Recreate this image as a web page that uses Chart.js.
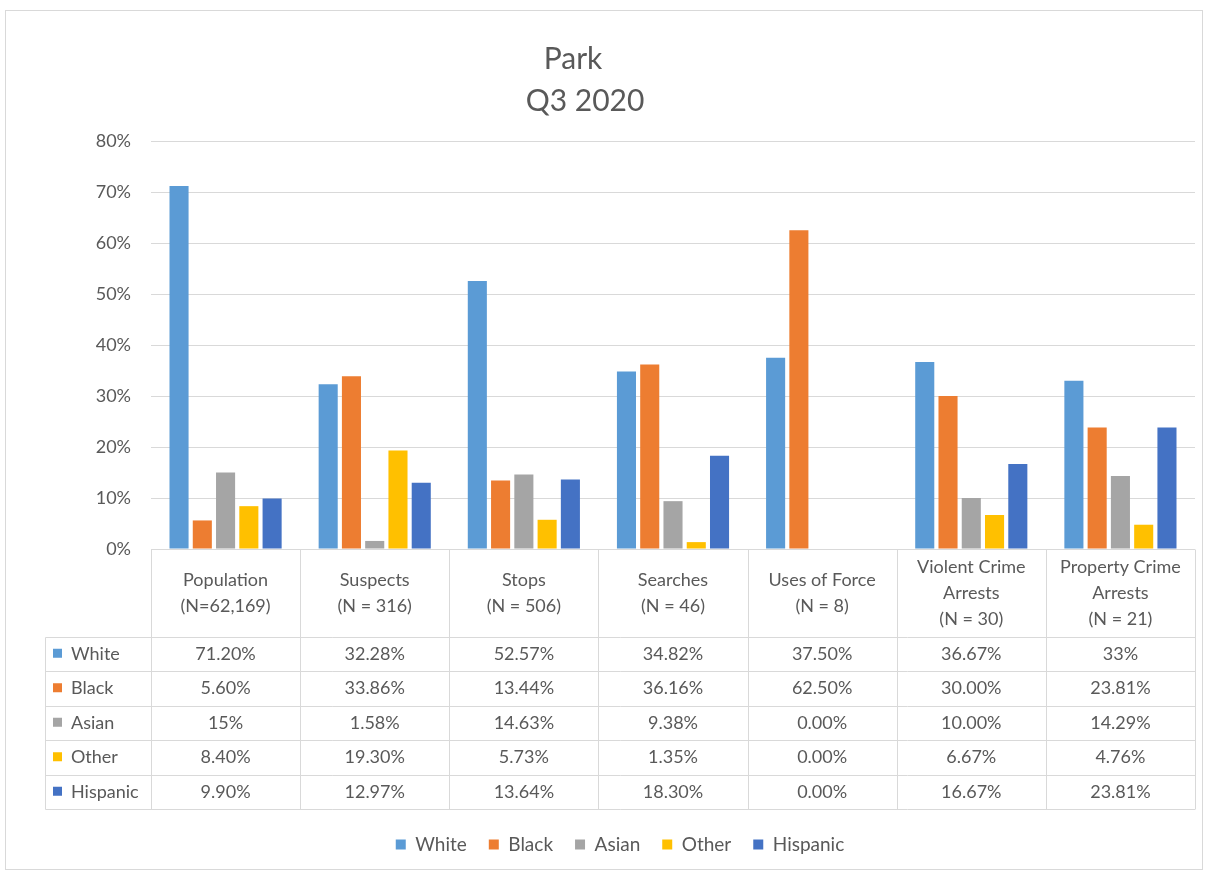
<!DOCTYPE html>
<html>
<head>
<meta charset="utf-8">
<script src="https://cdn.jsdelivr.net/npm/chart.js@4.4.1/dist/chart.umd.min.js"></script>
<style>
body { margin:0; background:#fff; }
#wrap { width:1207px; height:874px; position:relative; }
</style>
</head>
<body>
<div id="wrap"><canvas id="parkChart"></canvas></div>
<script>
// categories (header row of the data table)
var categories = [
	['Population', '(N=62,169)'],
	['Suspects', '(N = 316)'],
	['Stops', '(N = 506)'],
	['Searches', '(N = 46)'],
	['Uses of Force', '(N = 8)'],
	['Violent Crime', 'Arrests', '(N = 30)'],
	['Property Crime', 'Arrests', '(N = 21)']
];
var seriesNames = ['White', 'Black', 'Asian', 'Other', 'Hispanic'];

// percentages, kept as written in the table
var white    = ['71.20', '32.28', '52.57', '34.82', '37.50', '36.67', '33'];
var black    = ['5.60', '33.86', '13.44', '36.16', '62.50', '30.00', '23.81'];
var asian    = ['15', '1.58', '14.63', '9.38', '0.00', '10.00', '14.29'];
var other    = ['8.40', '19.30', '5.73', '1.35', '0.00', '6.67', '4.76'];
var hispanic = ['9.90', '12.97', '13.64', '18.30', '0.00', '16.67', '23.81'];

var yMax = 80;
var yStep = 10;

var titleLines = ['Park', 'Q3 2020'];
var colors = ['#5B9BD5', '#ED7D31', '#A5A5A5', '#FFC000', '#4472C4'];
var textColor = '#595959';
var lineColor = '#D9D9D9';
var fontFamily = 'Lato, "Open Sans", sans-serif';

var series = [white, black, asian, other, hispanic];

var datasets = [];
for (var i = 0; i < series.length; i++) {
	datasets.push({
		label: seriesNames[i],
		data: series[i].map(function (v) { return parseFloat(v); }),
		backgroundColor: colors[i],
		categoryPercentage: 0.78,
		barPercentage: 0.82
	});
}

// title, frame and data table under the bars
var tablePlugin = {
	id: 'dataTable',
	beforeDraw: function (chart) {
		var ctx = chart.ctx;
		ctx.save();
		ctx.strokeStyle = lineColor;
		ctx.lineWidth = 1;
		ctx.strokeRect(5.5, 10.5, 1197, 859);
		ctx.restore();
	},
	afterDraw: function (chart) {
		var ctx = chart.ctx;
		var x = chart.scales.x;
		var area = chart.chartArea;
		var half = (x.getPixelForValue(1) - x.getPixelForValue(0)) / 2;
		var top = Math.round(area.bottom) + 0.5;
		var headH = 87;
		var rowH = 34.5;
		var left = 45.5;
		var bottom = top + headH + rowH * series.length;

		ctx.save();
		ctx.strokeStyle = lineColor;
		ctx.lineWidth = 1;
		ctx.beginPath();
		// horizontal lines
		ctx.moveTo(area.left, top); ctx.lineTo(area.right, top);
		for (var r = 0; r <= series.length; r++) {
			var yy = Math.round(top + headH + rowH * r) + 0.5;
			ctx.moveTo(left, yy); ctx.lineTo(area.right, yy);
		}
		// vertical lines
		ctx.moveTo(left, Math.round(top + headH) + 0.5); ctx.lineTo(left, Math.round(bottom) + 0.5);
		for (var c = 0; c <= categories.length; c++) {
			var xx = Math.round(x.getPixelForValue(0) - half + 2 * half * c) + 0.5;
			ctx.moveTo(xx, top); ctx.lineTo(xx, Math.round(bottom) + 0.5);
		}
		ctx.stroke();

		ctx.fillStyle = textColor;
		ctx.font = '18px ' + fontFamily;
		ctx.textAlign = 'center';
		ctx.textBaseline = 'middle';
		var lh = 26;
		for (var c = 0; c < categories.length; c++) {
			var cx = x.getPixelForValue(c);
			var lines = categories[c];
			var y0 = top + headH / 2 - (lines.length - 1) * lh / 2;
			for (var l = 0; l < lines.length; l++) {
				ctx.fillText(lines[l], cx, y0 + l * lh);
			}
			for (var r = 0; r < series.length; r++) {
				ctx.fillText(series[r][c] + '%', cx, top + headH + rowH * r + rowH / 2);
			}
		}
		ctx.textAlign = 'left';
		for (var r = 0; r < series.length; r++) {
			var cy = top + headH + rowH * r + rowH / 2;
			ctx.fillStyle = colors[r];
			ctx.fillRect(53, cy - 5, 9, 9);
			ctx.fillStyle = textColor;
			ctx.fillText(seriesNames[r], 71, cy);
		}

		// title
		ctx.textAlign = 'center';
		ctx.font = '30px ' + fontFamily;
		ctx.fillText(titleLines[0], 573, 59);
		ctx.fillText(titleLines[1], 585, 101);
		ctx.restore();
	}
};

var config = {
	type: 'bar',
	data: { labels: categories.map(function (c) { return c.join(' '); }), datasets: datasets },
	options: {
		responsive: true,
		maintainAspectRatio: false,
		animation: false,
		layout: { padding: { top: 141, left: 45, right: 12, bottom: 10 } },
		plugins: {
			title: { display: false },
			tooltip: { enabled: false },
			legend: {
				position: 'bottom',
				labels: {
					boxWidth: 10,
					boxHeight: 10,
					padding: 22,
					color: textColor,
					font: { family: fontFamily, size: 19 }
				}
			}
		},
		scales: {
			x: {
				grid: { display: false },
				border: { display: false },
				ticks: { display: false },
				afterFit: function (s) { s.height = 264; }
			},
			y: {
				min: 0,
				max: yMax,
				ticks: {
					stepSize: yStep,
					padding: 20,
					color: textColor,
					font: { family: fontFamily, size: 18 },
					callback: function (v) { return v + '%'; }
				},
				grid: { color: lineColor, drawTicks: false },
				border: { display: false },
				afterFit: function (s) { s.width = 106; }
			}
		}
	},
	plugins: [tablePlugin]
};

var parkChart = new Chart(document.getElementById('parkChart'), config);
</script>
</body>
</html>
